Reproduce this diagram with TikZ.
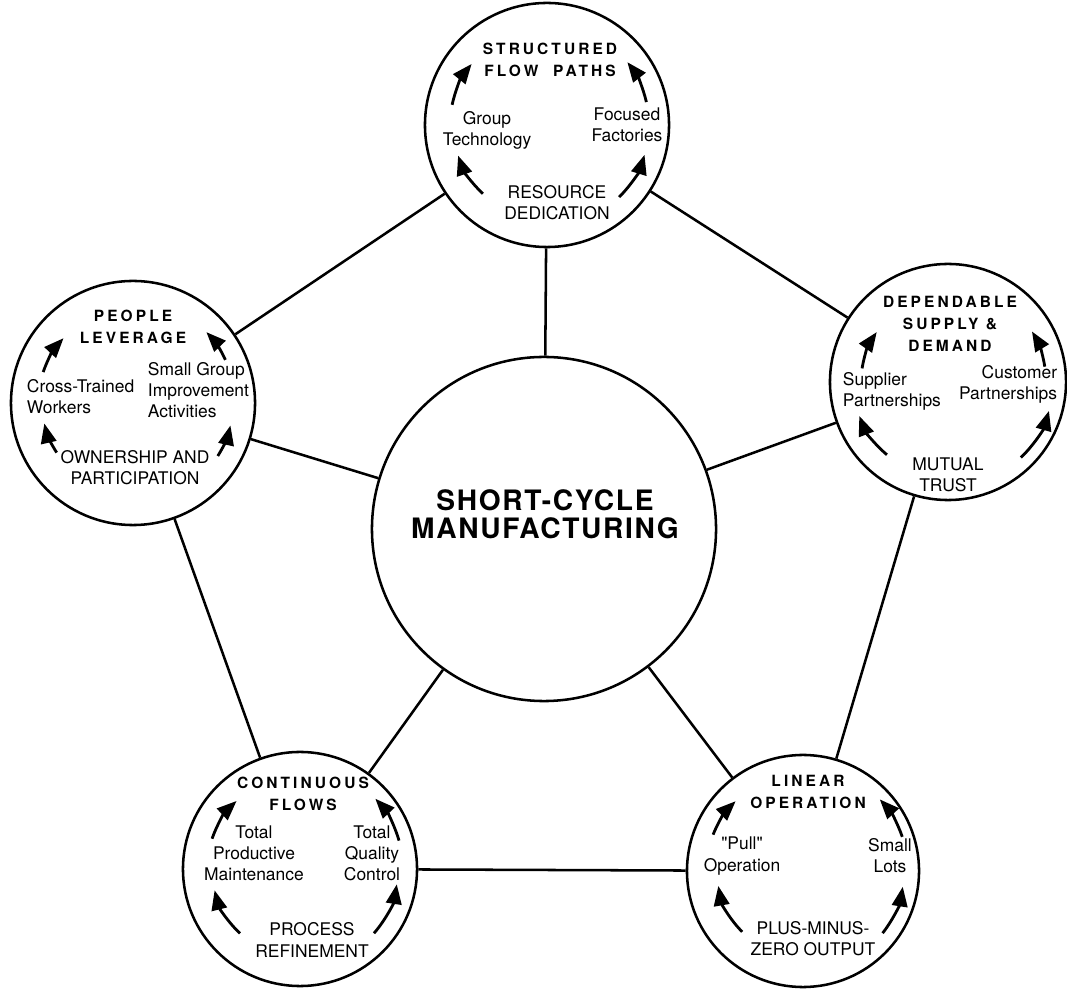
\documentclass[tikz,border=0pt]{standalone}
\usepackage{fontspec}
\setmainfont{TeX Gyre Heros}
\newfontfamily\headfont[LetterSpace=20]{TeX Gyre Heros}
\newfontfamily\hubfont[LetterSpace=6]{TeX Gyre Heros}
\usepackage{tikz}
\usetikzlibrary{arrows.meta, calc}

\begin{document}
\begin{tikzpicture}[x=0.025cm, y=0.025cm,
    ring/.style={draw, circle, line width=1.8pt, inner sep=0pt},
    link/.style={line width=1.8pt},
    title/.style={align=center, font=\headfont\bfseries\fontsize{11}{15.6}\selectfont},
    lbl/.style={align=center, font=\fontsize{12.4}{15}\selectfont},
    cyc/.style={line width=2pt, -{Triangle[length=14pt,width=11pt]}}]
    \useasboundingbox (0,0) rectangle (1067,988);

    % hub and the five rings
    \node[ring, minimum size=8.6cm] (hub) at (544,459) {};
    \node[ring, minimum size=6.1cm] (flowpaths) at (547,863) {};
    \node[ring, minimum size=6.1cm] (people) at (133,585) {};
    \node[ring, minimum size=5.9cm] (supply) at (948,606) {};
    \node[ring, minimum size=5.85cm] (flows) at (300,119) {};
    \node[ring, minimum size=5.8cm] (linear) at (803,117) {};

    \node[align=center, font=\hubfont\bfseries\fontsize{20}{20}\selectfont] (hubtxt) at (545,474)
        {SHORT-CYCLE\\MANUFACTURING};

    % spokes and rim
    \foreach \n in {flowpaths, people, supply, flows, linear}
        \draw[link] (hub) -- (\n);
    \draw[link] (flowpaths) -- (people);
    \draw[link] (people) -- (flows);
    \draw[link] (flows) -- (linear);
    \draw[link] (linear) -- (supply);
    \draw[link] (supply) -- (flowpaths);

    % structured flow paths
    \node[title] (fptitle) at (550,928) {STRUCTURED\\FLOW~~PATHS};
    \node[lbl] (fpleft) at (487,858) {Group\\Technology};
    \node[lbl] (fpright) at (627,863) {Focused\\Factories};
    \node[lbl] (fpbase) at (557,785) {RESOURCE\\DEDICATION};
    \foreach \a/\b/\r in {227/199/94, 168/141/97, 13/38/102, -45/-17/102}
        \draw[cyc] ($(flowpaths)+(\a:\r)$) arc[start angle=\a, end angle=\b, radius=\r];

    % people leverage
    \node[title] (pltitle) at (133,661) {PEOPLE\\LEVERAGE};
    \node[lbl, align=left, anchor=west] (plleft) at (22,591) {Cross-Trained\\Workers};
    \node[lbl, align=left, anchor=west] (plright) at (143,598) {Small Group\\Improvement\\Activities};
    \node[lbl] (plbase) at (135,520) {OWNERSHIP AND\\PARTICIPATION};
    \foreach \a/\b/\r in {213/193/91, 161/137/95, 25/44/102, -32/-13/100}
        \draw[cyc] ($(people)+(\a:\r)$) arc[start angle=\a, end angle=\b, radius=\r];

    % dependable supply and demand
    \node[title] (sdtitle) at (950,664) {DEPENDABLE\\SUPPLY \&\\DEMAND};
    \node[lbl, align=left, anchor=west] (sdleft) at (838,597) {Supplier\\Partnerships};
    \node[lbl, align=right, anchor=east] (sdright) at (1062,604) {Customer\\Partnerships};
    \node[lbl] (sdbase) at (948,513) {MUTUAL\\TRUST};
    \foreach \a/\b/\r in {230/201/95, 171/145/87, 9/31/98, -46/-16/105}
        \draw[cyc] ($(supply)+(\a:\r)$) arc[start angle=\a, end angle=\b, radius=\r];

    % continuous flows
    \node[title] (cftitle) at (303,194) {CONTINUOUS\\FLOWS};
    \node[lbl] (cfleft) at (254,135) {Total\\Productive\\Maintenance};
    \node[lbl] (cfright) at (372,135) {Total\\Quality\\Control};
    \node[lbl] (cfbase) at (312,48) {PROCESS\\REFINEMENT};
    \foreach \a/\b/\r in {227/194/88, 161/133/93, 16/43/103, -41/-9/98}
        \draw[cyc] ($(flows)+(\a:\r)$) arc[start angle=\a, end angle=\b, radius=\r];

    % linear operation
    \node[title] (lotitle) at (808,196) {LINEAR\\OPERATION};
    \node[lbl] (loleft) at (742,132) {\textquotedbl Pull\textquotedbl\\Operation};
    \node[lbl] (loright) at (890,132) {Small\\Lots};
    \node[lbl] (lobase) at (813,49) {PLUS-MINUS-\\ZERO OUTPUT};
    \foreach \a/\b/\r in {225/190/86, 158/134/97, 19/43/105, -38/-9/101}
        \draw[cyc] ($(linear)+(\a:\r)$) arc[start angle=\a, end angle=\b, radius=\r];
\end{tikzpicture}
\end{document}
